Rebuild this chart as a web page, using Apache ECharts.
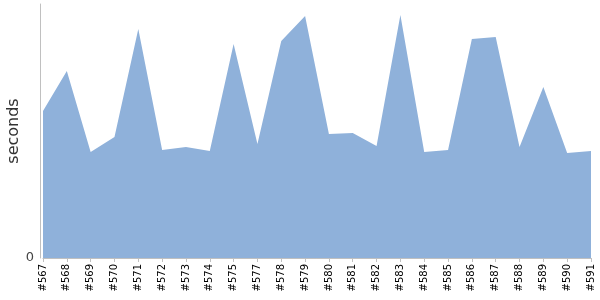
<!DOCTYPE html>
<html><head><meta charset="utf-8">
<script src="https://cdn.jsdelivr.net/npm/echarts@6/dist/echarts.min.js"></script>
<style>html,body{margin:0;padding:0;background:#fff}#c{width:600px;height:300px}</style>
</head><body><div id="c"></div>
<script>
const categories = ['#567','#568','#569','#570','#571','#572','#573','#574','#575','#577','#578','#579','#580','#581','#582','#583','#584','#585','#586','#587','#588','#589','#590','#591'];
const seconds = [147,187,106,121,229,108,111,107,214,114,217,242,124,125,112,243,106,108,219,221,111,171,105,107];
const yTicks = [0];
const chart = echarts.init(document.getElementById('c'), null, {renderer:'canvas'});
chart.setOption({
  animation:false,
  grid:{left:43,right:9,top:4,bottom:42,containLabel:false,outerBoundsMode:'none'},
  xAxis:{type:'category',data:categories,boundaryGap:false,
    axisLine:{lineStyle:{color:'#c0c0c0'}},
    axisTick:{alignWithLabel:true,length:4,lineStyle:{color:'#c0c0c0'}},
    axisLabel:{rotate:90,fontSize:10,color:'#000',fontFamily:'DejaVu Sans',margin:6,interval:0}},
  yAxis:{type:'value',min:0,max:254,interval:254,offset:3,
    name:'seconds',nameLocation:'middle',nameGap:18,nameMoveOverlap:false,
    nameTextStyle:{fontSize:16,color:'#333',fontFamily:'DejaVu Sans'},
    axisLine:{show:true,lineStyle:{color:'#c0c0c0'}},
    axisTick:{show:false},
    splitLine:{show:false},
    axisLabel:{fontSize:13,color:'#444',fontFamily:'DejaVu Sans',margin:6,
      formatter:v=>yTicks.includes(v)?String(v):''}},
  series:[{type:'line',data:seconds,symbol:'none',lineStyle:{width:0},
    areaStyle:{color:'#8fb1da',opacity:1}}]
});
</script></body></html>
